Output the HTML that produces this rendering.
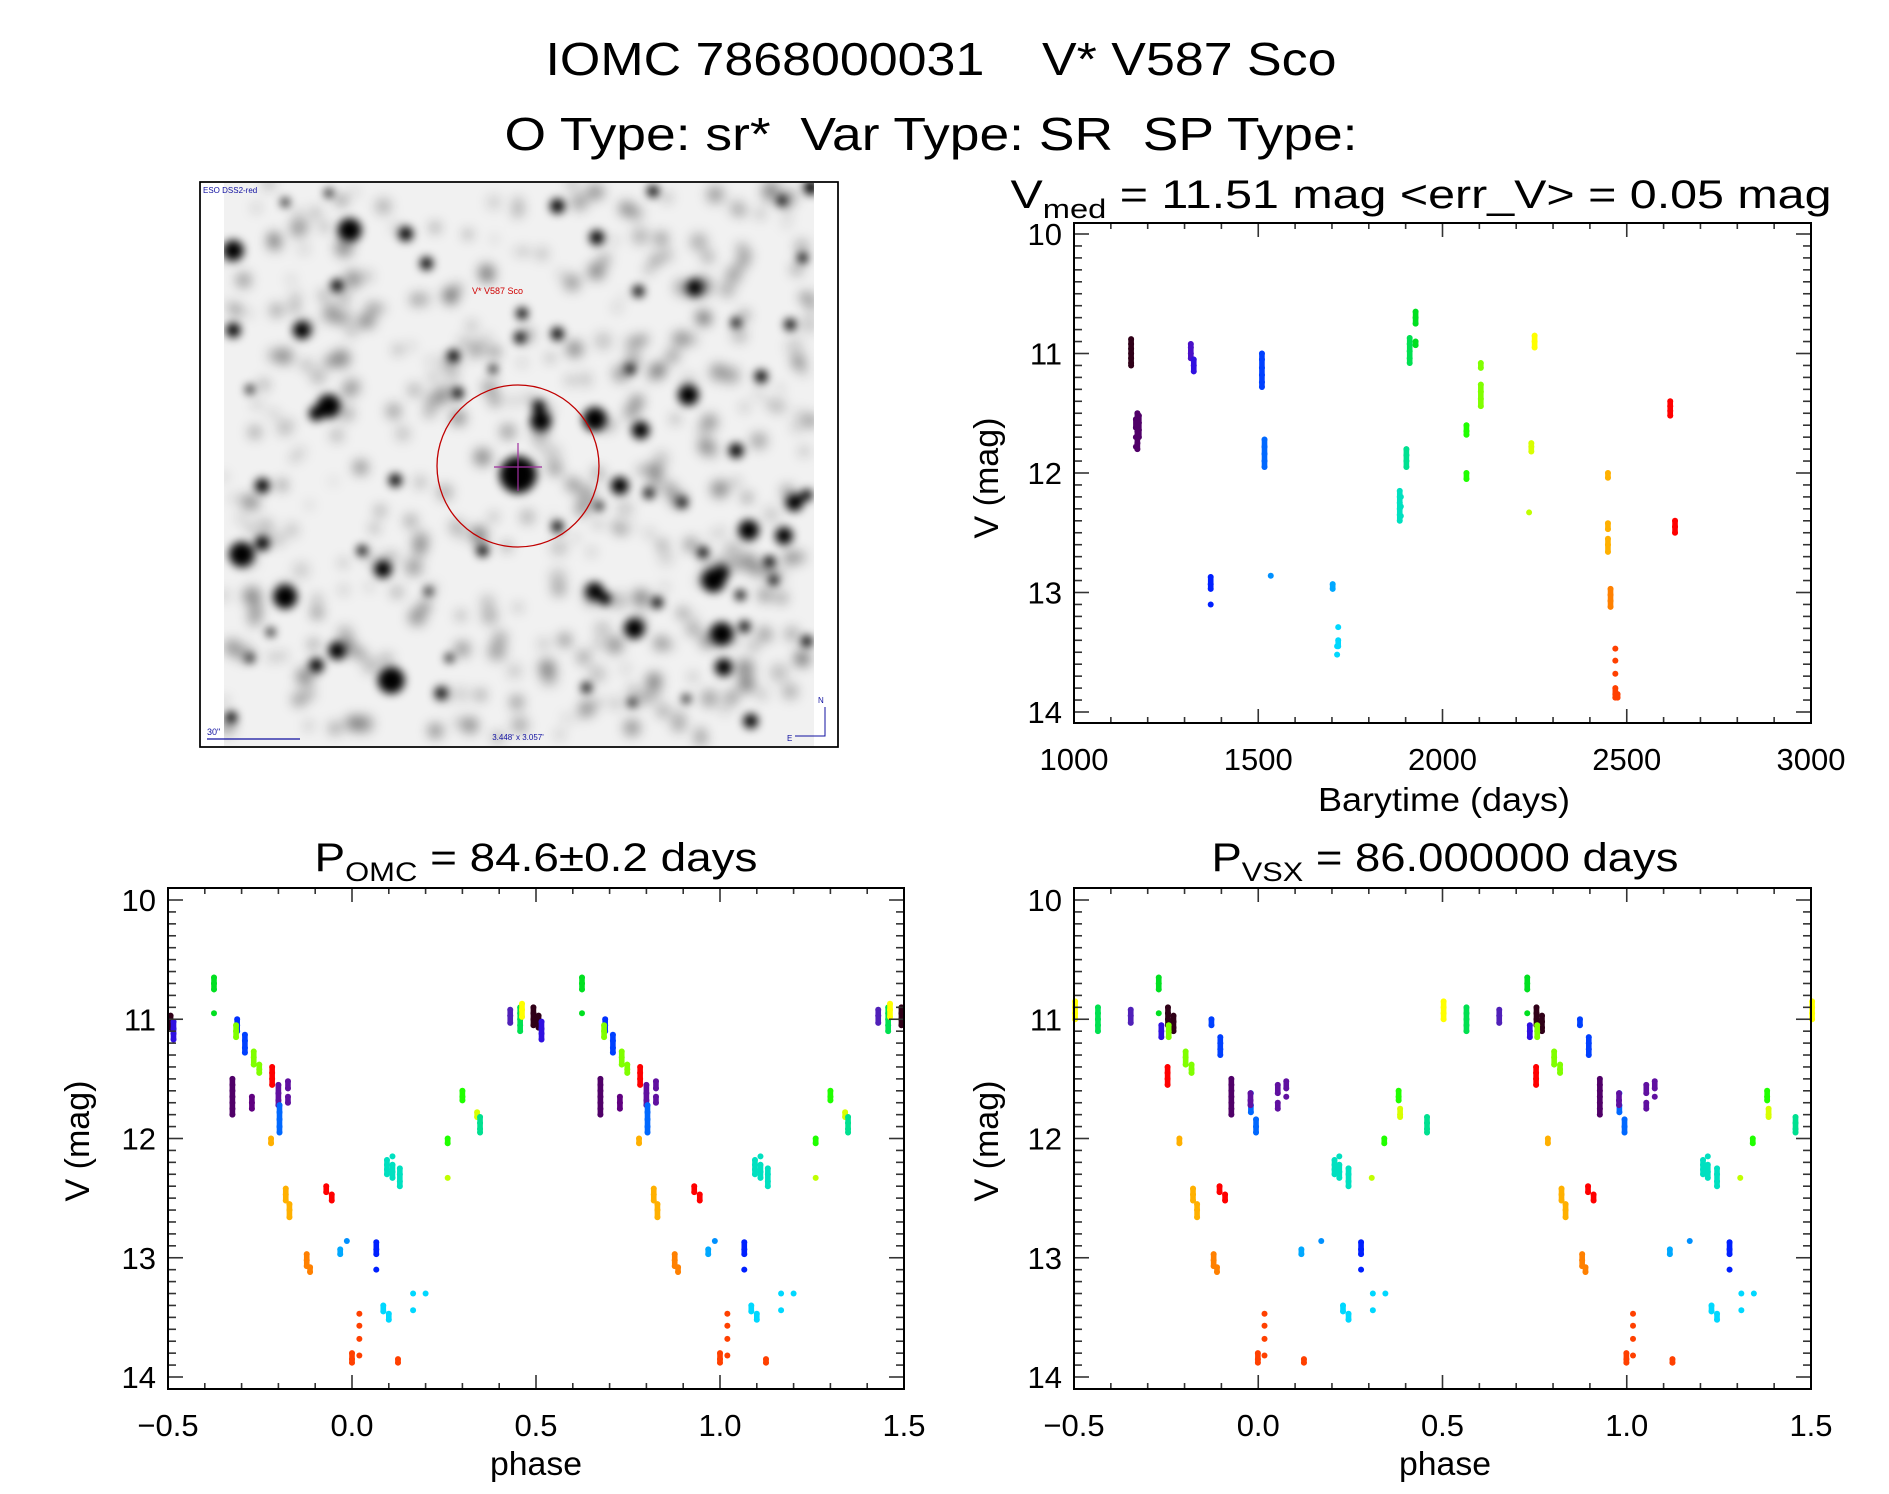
<!DOCTYPE html>
<html><head><meta charset="utf-8"><style>
html,body{margin:0;padding:0;background:#fff;}
svg{display:block;font-family:"Liberation Sans",sans-serif;}
</style></head><body>
<svg id="fig" width="1889" height="1494" viewBox="0 0 1889 1494" xmlns="http://www.w3.org/2000/svg">
<defs>
<filter id="blur3" x="-50%" y="-50%" width="200%" height="200%"><feGaussianBlur stdDeviation="4.5"/></filter>
<filter id="blur6" x="-50%" y="-50%" width="200%" height="200%"><feGaussianBlur stdDeviation="6"/></filter>
<clipPath id="imgclip"><rect x="224" y="183" width="590" height="563"/></clipPath>
</defs>
<text xml:space="preserve" x="941" y="75" font-size="46" font-weight="300" text-anchor="middle" textLength="791" lengthAdjust="spacingAndGlyphs">IOMC 7868000031    V* V587 Sco</text>
<text xml:space="preserve" x="931" y="150" font-size="46" font-weight="300" text-anchor="middle" textLength="853" lengthAdjust="spacingAndGlyphs">O Type: sr*  Var Type: SR  SP Type:</text>

<g id="imgpanel">
<rect x="200" y="182" width="638" height="565" fill="#fff" stroke="#000" stroke-width="1.5"/>
<g clip-path="url(#imgclip)">
<rect x="224" y="183" width="590" height="563" fill="#f1f1f1"/>
<g id="faint" filter="url(#blur6)"></g>
<g id="stars" filter="url(#blur3)"></g>
</g>
<rect x="200" y="182" width="638" height="565" fill="none" stroke="#000" stroke-width="1.5"/>
<ellipse cx="518" cy="466" rx="81" ry="81" fill="none" stroke="#c00000" stroke-width="1.3"/>
<line x1="494" y1="467" x2="542" y2="467" stroke="#a030a0" stroke-width="1.2"/>
<line x1="518" y1="443" x2="518" y2="491" stroke="#a030a0" stroke-width="1.2"/>
<text x="472" y="294" font-size="9" fill="#d00000">V* V587 Sco</text>
<text x="203" y="193" font-size="8" fill="#1010a0">ESO DSS2-red</text>
<text x="207" y="735" font-size="9" fill="#1010a0">30"</text>
<line x1="207" y1="739" x2="300" y2="739" stroke="#1010a0" stroke-width="1.2"/>
<text x="518" y="740" font-size="8" fill="#1010a0" text-anchor="middle">3.448' x 3.057'</text>
<text x="818" y="703" font-size="8" fill="#1010a0">N</text>
<text x="787" y="741" font-size="8" fill="#1010a0">E</text>
<polyline points="825,707 825,736 795,736" fill="none" stroke="#1010a0" stroke-width="1"/>
</g>

<g id="tr"></g>
<g id="bl"></g>
<g id="br"></g>
</svg>
<script>
// ---------- light curve data ----------
const lcTimes = [1155,1172,1168,1176,1317,1325,1371,1510,1517,1534,1702,1717,1714,1884,1887,1902,1911,1927,2065,2104,2235,2241,2250,2449,2456,2469,2475,2618,2631];
const lcMags = [
 [10.88,10.92,10.96,11.0,11.04,11.08,11.1],
 [11.5,11.55,11.6,11.65,11.7,11.75,11.8],
 [11.55,11.62,11.7,11.78],
 [11.52,11.58,11.64,11.7],
 [10.92,10.95,11.0,11.04],
 [11.05,11.1,11.15],
 [12.87,12.93,12.97,13.1],
 [11.0,11.05,11.12,11.18,11.24,11.28],
 [11.72,11.78,11.84,11.9,11.95],
 [12.86],
 [12.93,12.97],
 [13.29,13.4,13.45],
 [13.45,13.52],
 [12.15,12.2,12.25,12.3,12.35,12.4],
 [12.2,12.28,12.36],
 [11.8,11.85,11.9,11.95],
 [10.87,10.92,10.98,11.04,11.08],
 [10.65,10.7,10.75,10.9,10.93],
 [11.6,11.65,11.68,12.0,12.05],
 [11.08,11.12,11.26,11.32,11.38,11.44],
 [12.33],
 [11.75,11.78,11.82],
 [10.85,10.9,10.95],
 [12.0,12.04,12.42,12.47,12.55,12.6,12.66],
 [12.97,13.02,13.07,13.12],
 [13.47,13.57,13.68,13.8,13.85,13.88],
 [13.85,13.88],
 [11.4,11.44,11.48,11.52],
 [12.4,12.45,12.5]];
const lcColors = ['#300018','#500068','#500068','#500068','#4a10c8','#3010e0','#0020ff','#0040ff','#0068ff','#0090ff','#00a8ff','#00d8ff','#00d8ff','#00e0c0','#00e0c0','#00e090','#00e050','#00e020','#20ff00','#80ff00','#c0ff00','#d8ff00','#ffff00','#ffb000','#ff8000','#ff4000','#ff4000','#ff0000','#ff0000'];

// ---------- OMC phase data (phase in [0,1)) ----------
const omcPhase = [0.493,0.507,0.515,0.43,0.457,0.462,0.625,0.688,0.685,0.709,0.733,0.748,0.783,0.675,0.728,0.80,0.826,0.803,0.78,0.30,0.34,0.348,0.26,0.26,0.095,0.11,0.13,0.82,0.83,0.93,0.945,0.877,0.886,0.968,0.986,0.066,0.085,0.10,0.166,0.20,0.0,0.02,0.125];
const omcMags = [
 [10.9,10.95,11.0,11.05],[10.97,11.02,11.07],[11.02,11.08,11.12,11.17],[10.92,10.97,11.03],
 [10.9,10.95,11.0,11.05,11.1],[10.87,10.92,10.98],[10.65,10.7,10.75,10.95],[11.0,11.05,11.1],
 [11.05,11.1,11.15],[11.13,11.18,11.24,11.28],[11.27,11.32,11.38],[11.38,11.42,11.45],
 [11.4,11.45,11.5,11.55],[11.5,11.55,11.6,11.65,11.7,11.75,11.8],[11.65,11.7,11.75],
 [11.55,11.62,11.68,11.72],[11.52,11.58,11.65,11.7],[11.72,11.78,11.84,11.9,11.95],[12.0,12.04],
 [11.6,11.65,11.68],[11.78,11.82],[11.82,11.87,11.92,11.95],[12.0,12.04],[12.33],
 [12.18,12.22,12.26,12.3],[12.15,12.22,12.28,12.33],[12.25,12.3,12.36,12.4],
 [12.42,12.47,12.52],[12.55,12.6,12.66],[12.4,12.45],[12.47,12.52],
 [12.97,13.02,13.07],[13.08,13.12],[12.93,12.97],[12.86],[12.87,12.93,12.97,13.1],
 [13.4,13.45],[13.47,13.52],[13.3,13.44],[13.3],[13.8,13.85,13.88],[13.47,13.57,13.68,13.82],[13.85,13.88]];
const omcColors = ['#300018','#300018','#3010e0','#5020b8','#00e050','#ffff00','#00e020','#0030ff','#80ff00','#0040ff','#80ff00','#80ff00','#ff0000','#500068','#600080','#6010a0','#6010a0','#0068ff','#ffb000','#20ff00','#d8ff00','#00e090','#20ff00','#c0ff00','#00e0c0','#00e0c0','#00e0c0','#ffb000','#ffb000','#ff0000','#ff0000','#ff8000','#ff8000','#00a8ff','#0090ff','#0020ff','#00d8ff','#00d8ff','#00d8ff','#00d8ff','#ff4000','#ff4000','#ff4000'];

// ---------- VSX phase data ----------
const vsxPhase = [0.503,0.565,0.654,0.73,0.755,0.77,0.737,0.757,0.754,0.803,0.819,0.873,0.897,0.786,0.823,0.834,0.927,0.98,0.994,0.979,0.053,0.076,0.895,0.91,0.879,0.888,0.999,0.017,0.124,0.117,0.171,0.279,0.23,0.245,0.311,0.345,0.207,0.22,0.245,0.308,0.342,0.381,0.385,0.458];
const vsxMags = [
 [10.85,10.9,10.95,11.0],[10.9,10.95,11.0,11.05,11.1],[10.92,10.97,11.03],[10.65,10.7,10.75,10.95],
 [10.9,10.95,11.0,11.05],[10.97,11.02,11.07,11.1],[11.05,11.1,11.15],[11.05,11.1,11.15],
 [11.4,11.45,11.5,11.55],[11.27,11.32,11.38],[11.38,11.42,11.45],[11.0,11.05],[11.15,11.2,11.25,11.3],
 [12.0,12.04],[12.42,12.47,12.52],[12.55,12.6,12.66],[11.5,11.55,11.6,11.65,11.7,11.75,11.8],
 [11.62,11.72,11.78],[11.84,11.9,11.95],[11.62,11.68,11.72],[11.55,11.62,11.7,11.75],[11.52,11.58,11.65],
 [12.4,12.45],[12.47,12.52],[12.97,13.02,13.07],[13.08,13.12],[13.8,13.85,13.88],[13.47,13.57,13.68,13.82],
 [13.85,13.88],[12.93,12.97],[12.86],[12.87,12.93,12.97,13.1],[13.4,13.45],[13.47,13.52],[13.3,13.44],[13.3],
 [12.18,12.22,12.26,12.3],[12.15,12.22,12.28,12.33],[12.25,12.3,12.36,12.4],[12.33],[12.0,12.04],
 [11.6,11.65,11.68],[11.75,11.8,11.82],[11.82,11.87,11.92,11.95]];
const vsxColors = ['#ffff00','#00e050','#5020b8','#00e020','#300018','#300018','#3010e0','#80ff00','#ff0000','#80ff00','#80ff00','#0040ff','#0040ff','#ffb000','#ffb000','#ffb000','#500068','#0068ff','#0068ff','#6010a0','#6010a0','#6010a0','#ff0000','#ff0000','#ff8000','#ff8000','#ff4000','#ff4000','#ff4000','#00a8ff','#0090ff','#0020ff','#00d8ff','#00d8ff','#00d8ff','#00d8ff','#00e0c0','#00e0c0','#00e0c0','#c0ff00','#20ff00','#20ff00','#d8ff00','#00e090'];

const timeTicks = ['1000','1500','2000','2500','3000'];
const phaseTicks = ['-0.5','0.0','0.5','1.0','1.5'];
const magTicks = ['10','11','12','13','14'];

const NS='http://www.w3.org/2000/svg';
function mk(tag, attrs, parent){const e=document.createElementNS(NS,tag);for(const k in attrs)e.setAttribute(k,attrs[k]);parent.appendChild(e);return e;}

function axes(g, L, R, T, B, xmin, xmax, xTickLabels, xMinorStep, yMin, yMax, sx, sy){
  for(let i=0;i<=40;i++){
    const v=10+i*0.1; const y=sy(v); if(y<T-0.5||y>B+0.5)continue;
    const len = (i%10===0)?15:8;
    mk('line',{x1:L,y1:y,x2:L+len,y2:y,stroke:'#333','stroke-width':1.6},g);
    mk('line',{x1:R,y1:y,x2:R-len,y2:y,stroke:'#333','stroke-width':1.6},g);
  }
  const nx=Math.round((xmax-xmin)/xMinorStep);
  for(let i=0;i<=nx;i++){
    const v=xmin+i*xMinorStep; const x=sx(v);
    const len=(i%5===0)?14:6;
    mk('line',{x1:x,y1:B,x2:x,y2:B-len,stroke:'#333','stroke-width':1.6},g);
    mk('line',{x1:x,y1:T,x2:x,y2:T+len,stroke:'#333','stroke-width':1.6},g);
  }
  mk('rect',{x:L,y:T,width:R-L,height:B-T,fill:'none',stroke:'#000','stroke-width':2},g);
  magTicks.forEach(t=>{
    const e=mk('text',{x:L-12,y:sy(parseFloat(t))+11,'font-size':31,'text-anchor':'end'},g);
    e.textContent=t;
    
    
  });
  xTickLabels.forEach(t=>{
    const v=parseFloat(t);
    const e=mk('text',{x:sx(v),y:B+47,'font-size':31,'text-anchor':'middle'},g);
    e.textContent=t.replace('-','\u2212');
    
    
  });
}
function dots(g,xs,ms,cs,sx,sy,xmin,xmax,wrap){
  xs.forEach((x0,i)=>{
    const shifts = wrap?[-1,0,1]:[0];
    shifts.forEach(s=>{
      const x=x0+s; if(x<xmin-0.005||x>xmax+0.005)return;
      const px=sx(x);
      const arr=ms[i].slice().sort((a,b)=>a-b);
      for(let k=1;k<arr.length;k++){
        if(arr[k]-arr[k-1]<=0.07){
          const ln=mk('line',{x1:px,y1:sy(arr[k-1]),x2:px,y2:sy(arr[k]),stroke:cs[i],'stroke-width':5.6,'stroke-linecap':'round'},g);
          
          
        }
      }
      arr.forEach(m=>{
        const c=mk('circle',{cx:px,cy:sy(m),r:3,fill:cs[i]},g);
        
        
      });
    });
  });
}
function ylabel(g,x,y){
  const e=mk('text',{x:x,y:y,'font-size':34,'text-anchor':'middle',transform:`rotate(-90 ${x} ${y})`},g);
  e.textContent='V (mag)';
  
  
}
function title(g,x,y,main,sub,rest,len){
  const e=mk('text',{x:x,y:y,'font-size':40,'text-anchor':'middle',textLength:len,lengthAdjust:'spacingAndGlyphs'},g);
  
  
  const a=mk('tspan',{},e);a.textContent=main;
  const b=mk('tspan',{dy:10,'font-size':27},e);b.textContent=sub;
  const c=mk('tspan',{dy:-10},e);c.textContent=rest;
}
function xlabel(g,x,y,txt,len){
  const e=mk('text',{x:x,y:y,'font-size':33,'text-anchor':'middle',textLength:len,lengthAdjust:'spacingAndGlyphs'},g);
  e.textContent=txt;
  
  
}

(function(){
  const g=document.getElementById('tr');
  const L=1074,R=1811,T=223,B=723;
  const sx=v=>L+(v-1000)/2000*(R-L);
  const sy=v=>234+(v-10)*119.5;
  dots(g,lcTimes,lcMags,lcColors,sx,sy,1000,3000,false);
  axes(g,L,R,T,B,1000,3000,timeTicks,100,10,14,sx,sy);
  title(g,1421,208,'V','med',' = 11.51 mag <err_V> = 0.05 mag',821);
  xlabel(g,1444,811,'Barytime (days)',252);
  ylabel(g,998,478);
})();
(function(){
  const g=document.getElementById('bl');
  const L=168,R=904,T=888,B=1389;
  const sx=v=>L+(v+0.5)/2*(R-L);
  const sy=v=>900+(v-10)*119.25;
  dots(g,omcPhase,omcMags,omcColors,sx,sy,-0.5,1.5,true);
  axes(g,L,R,T,B,-0.5,1.5,phaseTicks,0.1,10,14,sx,sy);
  title(g,536,871,'P','OMC',' = 84.6\u00b10.2 days',443);
  xlabel(g,536,1475,'phase',92);
  ylabel(g,89,1141);
})();
(function(){
  const g=document.getElementById('br');
  const L=1074,R=1811,T=888,B=1389;
  const sx=v=>L+(v+0.5)/2*(R-L);
  const sy=v=>900+(v-10)*119.25;
  dots(g,vsxPhase,vsxMags,vsxColors,sx,sy,-0.5,1.5,true);
  axes(g,L,R,T,B,-0.5,1.5,phaseTicks,0.1,10,14,sx,sy);
  title(g,1445,871,'P','VSX',' = 86.000000 days',467);
  xlabel(g,1445,1475,'phase',92);
  ylabel(g,998,1141);
})();

(function(){
  const starsG=document.getElementById('stars');
  const faintG=document.getElementById('faint');
  const S=[[370,145,40],[505,155,25],[90,200,35],[555,235,22],[870,80,25],[965,165,25],[340,295,22],[1065,310,20],[1200,300,28],[255,415,30],[90,415,25],[785,370,20],[870,425,22],[780,435,20],[620,485,22],[715,520,15],[1045,520,18],[1360,540,22],[1185,590,35],[320,620,40],[290,640,25],[960,655,40],[830,660,35],[825,620,22],[1070,685,30],[1300,740,25],[775,805,62],[480,820,22],[1020,835,30],[1090,855,18],[1440,880,30],[1470,860,20],[130,575,15],[630,585,20],[1330,955,35],[1415,970,30],[110,1020,42],[160,990,25],[1245,1090,40],[1265,1070,25],[960,1120,30],[985,1140,22],[450,1060,30],[215,1135,40],[1055,1220,35],[1265,1235,40],[1320,1215,20],[340,1280,30],[290,1320,25],[470,1360,45],[1270,1325,30],[1335,1470,25],[85,1460,20],[1470,1255,20],[1110,1150,20],[160,835,25],[690,1010,20],[590,1395,20],[1220,1015,20],[1380,1040,20],[1430,400,20],[1460,220,18],[1300,395,18],[1480,30,25],[1100,40,20],[1410,65,18],[215,70,15],[320,45,15],[940,1380,18],[1050,1420,15],[1180,1410,15],[130,1300,15],[560,1120,15],[400,1010,18],[1170,880,18],[1390,1090,18],[1310,1130,18],[180,1230,15],[610,1300,15],[870,945,20],[970,890,15]];
  S.forEach(s=>{
    const X=200+(s[0]-10)*(638/1535), Y=182+(s[1]-15)*(565/1525), r=s[2]*0.3;
    const c=document.createElementNS(NS,'circle');
    c.setAttribute('cx',X);c.setAttribute('cy',Y);c.setAttribute('r',r);c.setAttribute('fill','#000');
    starsG.appendChild(c);
  });
  let seed=7; const rnd=()=>{seed=(seed*16807)%2147483647;return seed/2147483647;};
  for(let i=0;i<420;i++){
    const c=document.createElementNS(NS,'circle');
    c.setAttribute('cx',224+rnd()*590);c.setAttribute('cy',183+rnd()*563);
    c.setAttribute('r',3+rnd()*6);c.setAttribute('fill','#000');c.setAttribute('fill-opacity',(0.15+rnd()*0.3).toFixed(2));
    faintG.appendChild(c);
  }
})();
</script>
</body></html>
